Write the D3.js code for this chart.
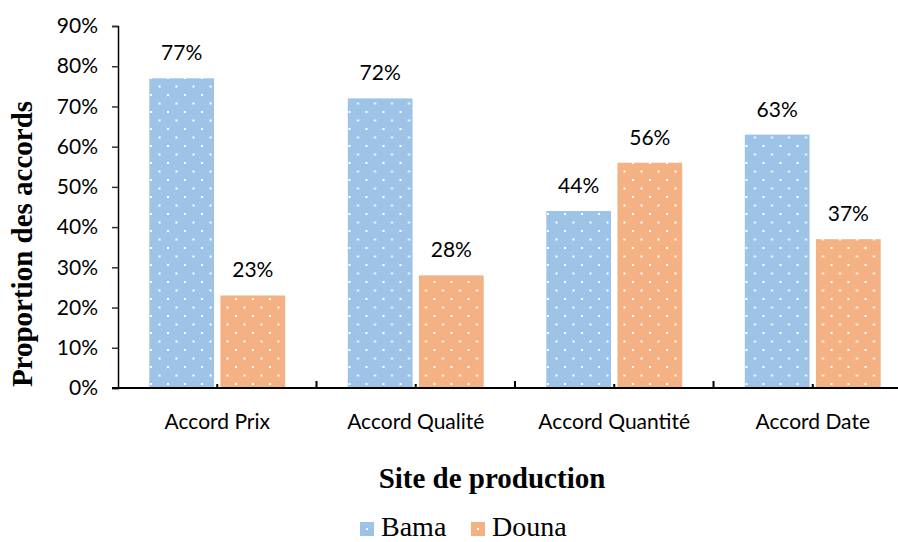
<!DOCTYPE html>
<html>
<head>
<meta charset="utf-8">
<script src="https://cdn.jsdelivr.net/npm/d3@7"></script>
<style>
  body { margin: 0; background: #fff; }
  svg { display: block; }
</style>
</head>
<body>
<svg id="chart" width="898" height="542"></svg>
<script>
const categories = ["Accord Prix", "Accord Qualité", "Accord Quantité", "Accord Date"]
const seriesNames = ["Bama", "Douna"]
const bama = [0.77, 0.72, 0.44, 0.63]
const douna = [0.23, 0.28, 0.56, 0.37]
const yTicks = [0, 0.1, 0.2, 0.3, 0.4, 0.5, 0.6, 0.7, 0.8, 0.9]

const colors = {Bama: "#9dc3e6", Douna: "#f4b183"}

const data = categories.map((c, i) => ({cat: c, values: [
  {name: "Bama", value: bama[i]},
  {name: "Douna", value: douna[i]}
]}))

const svg = d3.select("#chart")
const labelFont = "Lato, 'Open Sans', sans-serif"
const serif = "'Liberation Serif', 'Times New Roman', serif"

// motifs de points blancs
const defs = svg.append("defs")
seriesNames.forEach(n => {
  const p = defs.append("pattern")
    .attr("id", "dots-" + n)
    .attr("patternUnits", "userSpaceOnUse")
    .attr("width", 17).attr("height", 17)
    .attr("x", 6).attr("y", 0)
  p.append("rect").attr("width", 17).attr("height", 17).attr("fill", colors[n])
  p.append("rect").attr("x", 0.5).attr("y", 0.5).attr("width", 2).attr("height", 2).attr("fill", "#fff")
  p.append("rect").attr("x", 9).attr("y", 9).attr("width", 2).attr("height", 2).attr("fill", "#fff")
})

const x0 = d3.scaleBand().domain(categories).range([118, 912]).padding(0)
const x1 = d3.scaleBand().domain(seriesNames).range([0, x0.bandwidth()])
  .paddingInner(0.09).paddingOuter(0.44)
const y = d3.scaleLinear().domain([0, 0.9]).range([388, 26])

// axe Y
const yAxis = svg.append("g")
  .attr("transform", "translate(118,0)")
  .call(d3.axisLeft(y).tickValues(yTicks).tickFormat(d3.format(".0%")).tickSize(6).tickPadding(14))
yAxis.select(".domain").attr("stroke", "#000").attr("stroke-width", 1.5)
yAxis.selectAll(".tick line").attr("stroke", "#333").attr("stroke-width", 1.5)
yAxis.selectAll("text").attr("font-family", labelFont).attr("font-size", 21).attr("fill", "#000")

// barres
const groups = svg.append("g").selectAll("g")
  .data(data).join("g")
  .attr("transform", d => `translate(${x0(d.cat)},0)`)

groups.selectAll("rect")
  .data(d => d.values).join("rect")
  .attr("x", d => x1(d.name))
  .attr("y", d => y(d.value))
  .attr("width", x1.bandwidth())
  .attr("height", d => y(0) - y(d.value))
  .attr("fill", d => `url(#dots-${d.name})`)

groups.selectAll("text")
  .data(d => d.values).join("text")
  .attr("x", d => x1(d.name) + x1.bandwidth() / 2)
  .attr("y", d => y(d.value) - 18)
  .attr("text-anchor", "middle")
  .attr("font-family", labelFont).attr("font-size", 21)
  .text(d => d3.format(".0%")(d.value))

// axe X
const xAxis = svg.append("g").attr("transform", "translate(0,388)")
xAxis.append("line").attr("x1", 112).attr("x2", 912).attr("stroke", "#000").attr("stroke-width", 2)
xAxis.selectAll(".major")
  .data(categories.slice(1)).join("line")
  .attr("class", "major")
  .attr("x1", d => x0(d)).attr("x2", d => x0(d))
  .attr("y1", 0).attr("y2", -7)
  .attr("stroke", "#000").attr("stroke-width", 2)
xAxis.selectAll(".minor")
  .data(categories).join("line")
  .attr("class", "minor")
  .attr("x1", d => x0(d) + x0.bandwidth() / 2).attr("x2", d => x0(d) + x0.bandwidth() / 2)
  .attr("y1", 0).attr("y2", -4)
  .attr("stroke", "#000").attr("stroke-width", 2)
xAxis.selectAll("text")
  .data(categories).join("text")
  .attr("x", d => x0(d) + x0.bandwidth() / 2)
  .attr("y", 41)
  .attr("text-anchor", "middle")
  .attr("font-family", labelFont).attr("font-size", 21)
  .text(d => d)

// titres
svg.append("text")
  .attr("x", 492).attr("y", 488)
  .attr("text-anchor", "middle")
  .attr("font-family", serif).attr("font-weight", "bold").attr("font-size", 29)
  .text("Site de production")

svg.append("text")
  .attr("transform", "translate(32,244) rotate(-90)")
  .attr("text-anchor", "middle")
  .attr("font-family", serif).attr("font-weight", "bold").attr("font-size", 29)
  .text("Proportion des accords")

// légende
const legend = svg.append("g").selectAll("g")
  .data(seriesNames).join("g")
  .attr("transform", (d, i) => `translate(${360 + i * 111},0)`)
legend.append("rect")
  .attr("x", 0).attr("y", 522).attr("width", 14).attr("height", 14)
  .attr("fill", d => colors[d])
legend.append("rect")
  .attr("x", 6).attr("y", 528).attr("width", 2).attr("height", 2).attr("fill", "#fff")
legend.append("text")
  .attr("x", 21).attr("y", 536)
  .attr("font-family", serif).attr("font-size", 28)
  .text(d => d)
</script>
</body>
</html>
